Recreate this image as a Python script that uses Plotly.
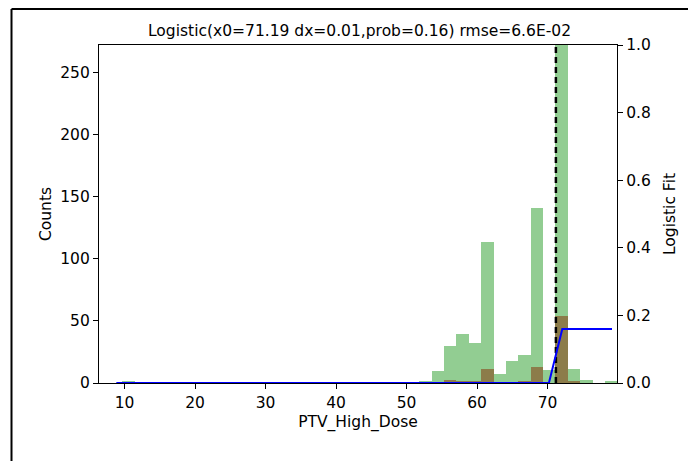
import numpy as np
import plotly.graph_objects as go

# histogram bins (40 equal bins)
bin_start = 9.7
bin_width = 1.755
all_counts = [1, 0, 0, 0, 0, 0, 0, 0, 0, 0,
              0, 0, 0, 0, 0, 0, 0, 0, 0, 0,
              0, 0, 0, 0, 2, 10, 29.5, 39.5, 32.5, 114,
              7, 17.5, 22.5, 141, 10.5, 290, 11.5, 2.5, 0, 1]
tox_counts = [0, 0, 0, 0, 0, 0, 0, 0, 0, 0,
              0, 0, 0, 0, 0, 0, 0, 0, 0, 0,
              0, 0, 0, 0, 0, 0, 2.5, 1, 2, 11.5,
              0, 0, 1, 13, 0, 54, 1.5, 0, 0, 0]

# logistic fit as drawn
fit_x = [8.83, 70.2, 72.1, 79.15]
fit_y = [0, 0, 0.16, 0.16]
x0 = 71.19

title = "Logistic(x0=71.19 dx=0.01,prob=0.16) rmse=6.6E-02"

centers = bin_start + bin_width * (np.arange(len(all_counts)) + 0.5)

W, H = 688, 461
ml, mt, mr, mb = 99, 45, 688 - 620, 461 - 383
pw, ph = W - ml - mr, H - mt - mb

font = dict(family="DejaVu Sans", size=15.5, color="black")

fig = go.Figure()
fig.add_trace(go.Bar(x=centers, y=all_counts, width=bin_width,
                     marker=dict(color="#92cd92", line=dict(width=0)),
                     showlegend=False))
fig.add_trace(go.Bar(x=centers, y=tox_counts, width=bin_width,
                     marker=dict(color="#8c7c4a", line=dict(width=0)),
                     showlegend=False))
fig.add_trace(go.Scatter(x=[x0, x0], y=[0, 1], yaxis="y2", mode="lines",
                         line=dict(color="black", width=2.5, dash="6px,4px"),
                         showlegend=False))
fig.add_trace(go.Scatter(x=fit_x, y=fit_y, yaxis="y2", mode="lines",
                         line=dict(color="#0000ff", width=2), showlegend=False))

axis_common = dict(showgrid=False, zeroline=False, showline=True, linecolor="black",
                   linewidth=1.2, ticks="outside", ticklen=5, tickcolor="black",
                   tickfont=font)

fig.update_layout(
    width=W, height=H,
    margin=dict(l=ml, r=mr, t=mt, b=mb),
    paper_bgcolor="white", plot_bgcolor="white",
    barmode="overlay", bargap=0,
    font=font,
    title=dict(text=title, x=(ml + pw / 2) / W, xanchor="center",
               y=1 - 31 / H, yanchor="middle", font=font),
    xaxis=dict(axis_common, range=[6.37, 79.86], tickvals=[10, 20, 30, 40, 50, 60, 70],
               mirror=True,
               title=dict(text="PTV_High_Dose", font=font, standoff=5)),
    yaxis=dict(axis_common, range=[0, 272.5], tickvals=[0, 50, 100, 150, 200, 250],
               title=dict(text="Counts", font=font, standoff=4)),
    yaxis2=dict(axis_common, overlaying="y", side="right", range=[0, 1],
                tickvals=[0, 0.2, 0.4, 0.6, 0.8, 1.0], tickformat=".1f",
                title=dict(text="Logistic Fit", font=font, standoff=14)),
)

# outer figure frame: only its left and top edges fall inside the picture
fx = (11 - ml) / pw
fy = (H - mb - 9) / ph
fig.add_shape(type="line", xref="paper", yref="paper",
              x0=fx, x1=fx, y0=-(mb + 30) / ph, y1=fy,
              line=dict(color="black", width=2), layer="above")
fig.add_shape(type="line", xref="paper", yref="paper",
              x0=fx, x1=(W + 30 - ml) / pw, y0=fy, y1=fy,
              line=dict(color="black", width=2), layer="above")

# the page's default 8px body margin would shift the figure
fig.write_html("out.html", config={"displayModeBar": False},
               post_script="document.body.style.margin='0';document.body.style.overflow='hidden';")
